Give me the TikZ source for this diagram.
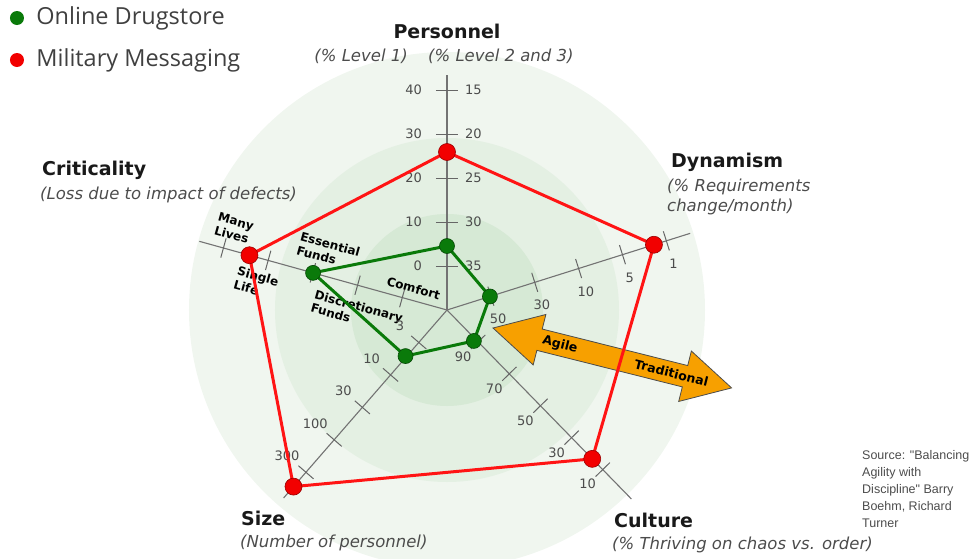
\documentclass[tikz,border=0pt]{standalone}
\usepackage{fontspec}
\setmainfont{DejaVu Sans}[ItalicFont={DejaVu Sans Oblique},BoldFont={DejaVu Sans Bold}]
\newfontfamily\legendfont{Open Sans}
\newfontfamily\sourcefont{Liberation Sans}
\usetikzlibrary{positioning}

\definecolor{ringout}{RGB}{240,246,239}
\definecolor{ringmid}{RGB}{228,240,227}
\definecolor{ringin}{RGB}{214,233,213}
\definecolor{milred}{RGB}{255,20,20}
\definecolor{drugreen}{RGB}{10,122,10}
\definecolor{agileorange}{RGB}{247,160,0}

\tikzset{
  axisline/.style={draw=black!55, line width=1.1pt},
  tickmark/.style={draw=black!60, line width=1pt},
  ticklabel/.style={font=\fontsize{13}{13}\selectfont, text=black!70, inner sep=1pt},
  axistitle/.style={font=\fontsize{19}{22}\selectfont\bfseries, text=black!90, inner sep=0pt},
  axissub/.style={font=\fontsize{16.5}{20}\selectfont\itshape, text=black!70, inner sep=0pt, align=left},
  critlabel/.style={font=\fontsize{12}{14}\selectfont\bfseries, inner sep=0pt, align=left, rotate=-15.5},
  arrowtext/.style={font=\fontsize{12.5}{14}\selectfont\bfseries, inner sep=0pt, rotate=-14.1},
  redline/.style={draw=milred, line width=3pt, line join=round},
  greenline/.style={draw=drugreen, line width=3pt, line join=round},
  reddot/.style={circle, fill=red!95!black, draw=red!60!black, line width=0.6pt, minimum size=17pt, inner sep=0pt},
  greendot/.style={circle, fill=drugreen, draw=drugreen!60!black, line width=0.6pt, minimum size=15pt, inner sep=0pt},
  legenddot/.style={circle, minimum size=14pt, inner sep=0pt},
  legendtext/.style={font=\legendfont\fontsize{23.5}{26}\selectfont, text=black!75, inner sep=0pt},
  sourcetext/.style={font=\sourcefont\fontsize{12.5}{17}\selectfont, text=black!70, inner sep=0pt, align=left}
}

\begin{document}
\begin{tikzpicture}[x=1pt, y=1pt]
    \useasboundingbox (-447,-248) rectangle (530,310);
    % rings
    \fill[ringout] (0,0) circle (258);
    \fill[ringmid] (0,0) circle (172);
    \fill[ringin] (0,0) circle (96);
    \coordinate (O) at (0,0);

    % agile / traditional arrow
    \begin{scope}[shift={(46,-18)}, rotate=-14.1]
    \filldraw[draw=black!70, fill=agileorange, line width=0.8pt] (0,0) -- (48,26) -- (48,11) -- (198,11) -- (198,26) -- (246,0) -- (198,-26) -- (198,-11) -- (48,-11) -- (48,-26) -- cycle;
    \node[arrowtext] (agile) at (69,0) {Agile};
    \node[arrowtext] (trad) at (184,0) {Traditional};
    \end{scope}

    % personnel axis
    \coordinate (aP) at (90:235);
    \draw[axisline] (O) -- (aP);
    \foreach \i/\l/\m in {1/0/35, 2/10/30, 3/20/25, 4/30/20, 5/40/15}{
      \draw[tickmark] (-11,\i*44) -- (11,\i*44);
      \node[ticklabel, anchor=east] (pl\i) at (-24,\i*44) {\l};
      \node[ticklabel, anchor=west] (pr\i) at (17,\i*44) {\m};
    }

    % dynamism axis
    \begin{scope}[rotate=17.5]
    \coordinate (aD) at (255,0);
    \draw[axisline] (O) -- (aD);
    \foreach \i/\l in {1/50, 2/30, 3/10, 4/5, 5/1}{
      \draw[tickmark] (\i*46,-10) -- (\i*46,10);
      \node[ticklabel] (dl\i) at (\i*46,-24) {\l};
    }
    \end{scope}

    % criticality axis
    \begin{scope}[rotate=164.5]
    \coordinate (aCr) at (257,0);
    \draw[axisline] (O) -- (aCr);
    \foreach \i in {1,...,5}
      \draw[tickmark] (\i*46.4,-10) -- (\i*46.4,10);
    \node[critlabel] (many) at (227,-22) {Many\\Lives};
    \node[critlabel] (single) at (191,25) {Single\\Life};
    \node[critlabel] (essential) at (130,-25) {Essential\\Funds};
    \node[critlabel] (discr) at (86,27) {Discretionary\\Funds};
    \node[critlabel] (comfort) at (38,-12) {Comfort};
    \end{scope}

    % size axis
    \begin{scope}[rotate=229]
    \coordinate (aS) at (249,0);
    \draw[axisline] (O) -- (aS);
    \foreach \i/\l in {1/3, 2/10, 3/30, 4/100, 5/300}{
      \draw[tickmark] (\i*43,-10) -- (\i*43,10);
      \node[ticklabel] (sl\i) at (\i*43,-25) {\l};
    }
    \end{scope}

    % culture axis
    \begin{scope}[rotate=314.3]
    \coordinate (aCu) at (264,0);
    \draw[axisline] (O) -- (aCu);
    \foreach \i/\l in {1/90, 2/70, 3/50, 4/30, 5/10}{
      \draw[tickmark] (\i*44.6,-10) -- (\i*44.6,10);
      \node[ticklabel] (cl\i) at (\i*44.6,-21) {\l};
    }
    \end{scope}

    % data points
    \coordinate (rP) at (90:158);
    \coordinate (rD) at (17.5:217);
    \coordinate (rCu) at (314.3:208);
    \coordinate (rS) at (229:234);
    \coordinate (rCr) at (164.5:205);
    \coordinate (gP) at (90:64);
    \coordinate (gD) at (17.5:45);
    \coordinate (gCu) at (311:41);
    \coordinate (gS) at (228:62);
    \coordinate (gCr) at (164.5:139);

    \draw[redline] (rP) -- (rD) -- (rCu) -- (rS) -- (rCr) -- cycle;
    \draw[greenline] (gP) -- (gD) -- (gCu) -- (gS) -- (gCr) -- cycle;
    \foreach \c in {rP,rD,rCu,rS,rCr}
      \node[reddot] (\c dot) at (\c) {};
    \foreach \c in {gP,gD,gCu,gS,gCr}
      \node[greendot] (\c dot) at (\c) {};

    % axis titles
    \node[axistitle] (personnel) at (0,279) {Personnel};
    \node[axissub, anchor=east] (lvlone) at (-39,254) {(\% Level 1)};
    \node[axissub, anchor=west] (lvltwo) at (-19,254) {(\% Level 2 and 3)};
    \node[axistitle, anchor=west] (criticality) at (-405,140) {Criticality};
    \node[axissub, anchor=west] (critsub) at (-407,115) {(Loss due to impact of defects)};
    \node[axistitle, anchor=west] (dynamism) at (224,148) {Dynamism};
    \node[axissub, anchor=west] (dynsub) at (220,113) {(\% Requirements\\change/month)};
    \node[axistitle, anchor=west] (size) at (-206,-208) {Size};
    \node[axissub, anchor=west] (sizesub) at (-207,-233) {(Number of personnel)};
    \node[axistitle, anchor=west] (culture) at (167,-210) {Culture};
    \node[axissub, anchor=west] (culsub) at (165,-235) {(\% Thriving on chaos vs. order)};

    % legend
    \node[legenddot, fill=drugreen] (lgGreen) at (-430,292) {};
    \node[legendtext, right=12pt of lgGreen] (lgGreenText) {Online Drugstore};
    \node[legenddot, fill=red!95!black] (lgRed) at (-430,250) {};
    \node[legendtext, right=12pt of lgRed] (lgRedText) {Military Messaging};

    % source
    \node[sourcetext, anchor=north west] (source) at (415,-140) {Source: "Balancing\\Agility with\\Discipline" Barry\\Boehm, Richard\\Turner};
\end{tikzpicture}
\end{document}
